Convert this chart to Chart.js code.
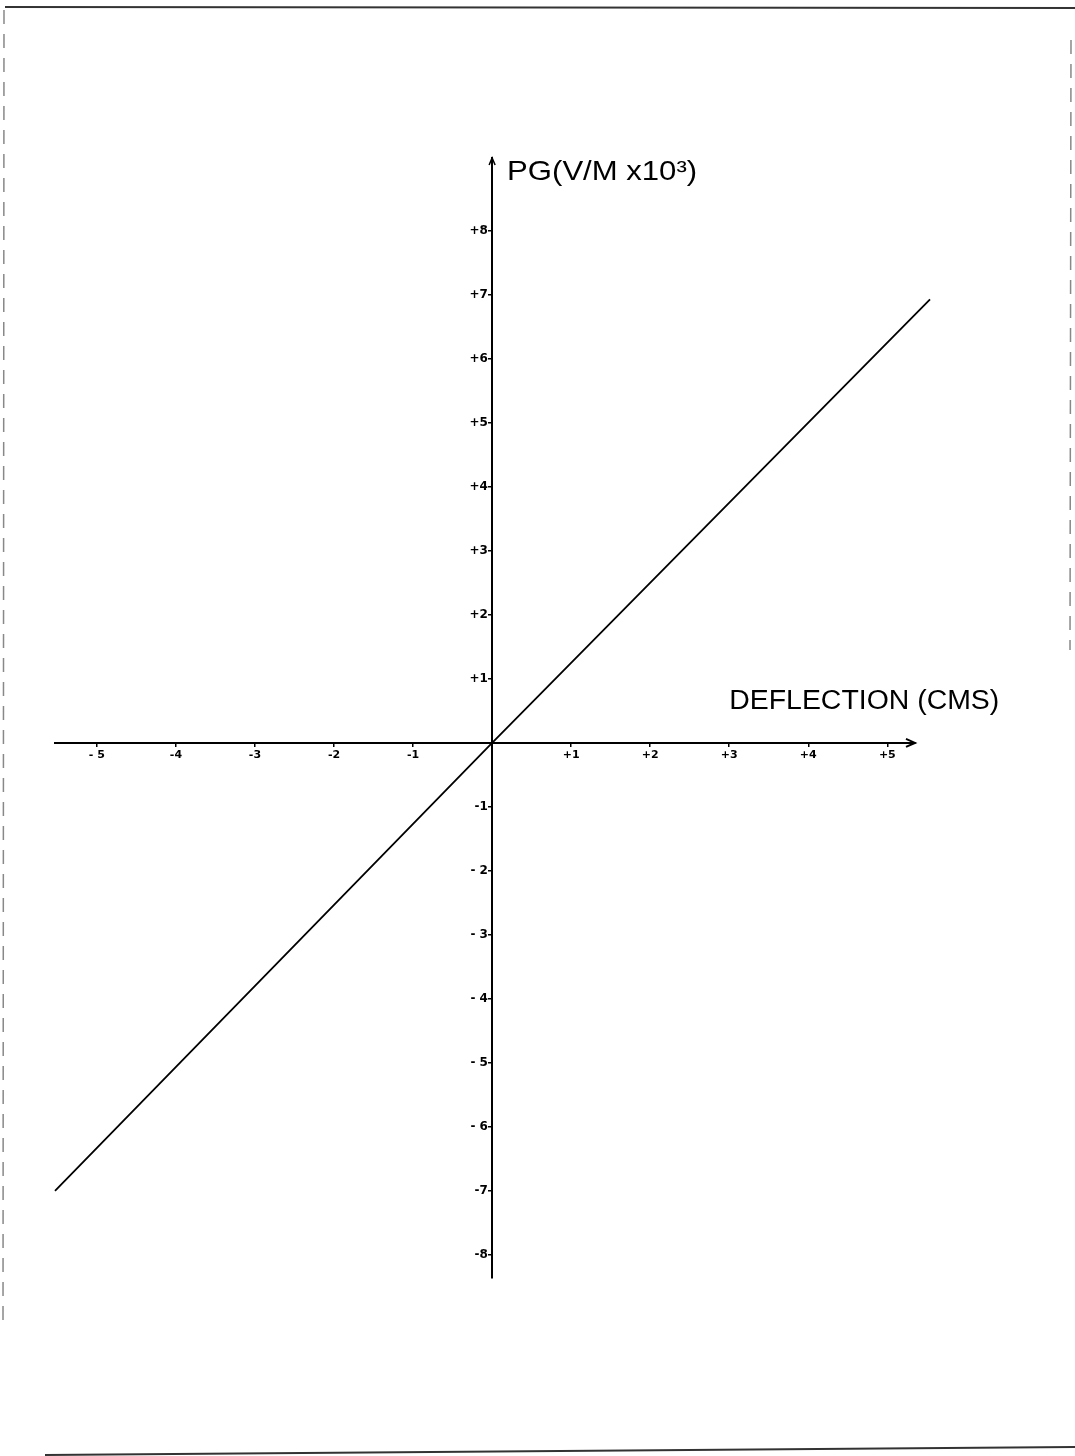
<!DOCTYPE html>
<html>
<head>
<meta charset="utf-8">
<title>PG calibration</title>
<script src="https://cdn.jsdelivr.net/npm/chart.js@4/dist/chart.umd.min.js"></script>
<style>
  html, body { margin: 0; padding: 0; background: #fff; }
  #wrap { position: relative; width: 1075px; height: 1456px; }
</style>
</head>
<body>
<div id="wrap"><canvas id="calib" width="1075" height="1456"></canvas></div>
<script>
// calibration line: potential gradient against meter deflection
const deflection = [-5.53, 0, 5.54];
const potentialGradient = [-7.0, 0, 6.93];

const xTicks = [-5, -4, -3, -2, -1, 1, 2, 3, 4, 5];
const xTickLabels = ['- 5', '-4', '-3', '-2', '-1', '+1', '+2', '+3', '+4', '+5'];
const yTicks = [8, 7, 6, 5, 4, 3, 2, 1, -1, -2, -3, -4, -5, -6, -7, -8];
const yTickLabels = ['+8', '+7', '+6', '+5', '+4', '+3', '+2', '+1',
                     '-1', '- 2', '- 3', '- 4', '- 5', '- 6', '-7', '-8'];

const xTitle = 'DEFLECTION (CMS)';
const yTitle = 'PG(V/M x10\u00B3)';

// draw text squeezed/stretched to a given width
function fitText(ctx, text, x, y, width) {
    const w = ctx.measureText(text).width;
    ctx.save();
    ctx.translate(x, y);
    ctx.scale(width / w, 1);
    ctx.fillText(text, 0, 0);
    ctx.restore();
}

// paper edges of the sheet
const paper = {
    id: 'paper',
    beforeDraw(chart) {
        const ctx = chart.ctx;
        ctx.save();
        ctx.fillStyle = '#fff';
        ctx.fillRect(0, 0, chart.width, chart.height);
        ctx.strokeStyle = '#333';
        ctx.lineWidth = 2;
        ctx.beginPath();
        ctx.moveTo(5, 7);
        ctx.lineTo(1075, 8);
        ctx.stroke();
        ctx.beginPath();
        ctx.moveTo(45, 1455);
        ctx.lineTo(1075, 1447);
        ctx.stroke();
        ctx.strokeStyle = '#888';
        ctx.lineWidth = 1.5;
        ctx.setLineDash([14, 10]);
        ctx.beginPath();
        ctx.moveTo(4, 10);
        ctx.lineTo(3, 1330);
        ctx.stroke();
        ctx.beginPath();
        ctx.moveTo(1071, 40);
        ctx.lineTo(1070, 650);
        ctx.stroke();
        ctx.restore();
    }
};

// arrow heads and axis titles
const annotate = {
    id: 'annotate',
    afterDraw(chart) {
        const ctx = chart.ctx;
        const x = chart.scales.x, y = chart.scales.y;
        const ox = x.getPixelForValue(0), oy = y.getPixelForValue(0);
        ctx.save();
        ctx.strokeStyle = '#000';
        ctx.lineWidth = 2;
        ctx.beginPath();
        ctx.moveTo(x.right - 9, oy - 4);
        ctx.lineTo(x.right, oy);
        ctx.lineTo(x.right - 9, oy + 4);
        ctx.stroke();
        ctx.lineWidth = 1.5;
        ctx.beginPath();
        ctx.moveTo(ox - 3, y.top + 7);
        ctx.lineTo(ox, y.top);
        ctx.lineTo(ox + 3, y.top + 7);
        ctx.stroke();

        ctx.fillStyle = '#000';
        ctx.textBaseline = 'alphabetic';
        ctx.font = '28px "Liberation Sans"';
        fitText(ctx, yTitle, ox + 15, y.top + 22, 190);
        ctx.font = '27px "Liberation Sans"';
        fitText(ctx, xTitle, x.getPixelForValue(3.0), oy - 34, 270);
        ctx.restore();
    }
};

new Chart(document.getElementById('calib'), {
    type: 'scatter',
    data: {
        datasets: [{
            data: deflection.map((d, i) => ({ x: d, y: potentialGradient[i] })),
            showLine: true,
            borderColor: '#000',
            borderWidth: 1.8,
            pointRadius: 0,
            clip: false
        }]
    },
    options: {
        responsive: false,
        animation: false,
        layout: { padding: { left: 55, right: 160, top: 158, bottom: 178 } },
        plugins: { legend: { display: false }, tooltip: { enabled: false } },
        scales: {
            x: {
                type: 'linear',
                position: { y: 0 },
                min: -5.53,
                max: 5.35,
                afterBuildTicks: s => { s.ticks = xTicks.map(v => ({ value: v })); },
                ticks: {
                    autoSkip: false,
                    maxRotation: 0,
                    padding: 3,
                    color: '#000',
                    font: { family: 'DejaVu Sans', size: 11, weight: 'bold' },
                    callback: v => xTickLabels[xTicks.indexOf(v)]
                },
                grid: { drawOnChartArea: false, drawTicks: true, tickLength: 3, color: '#000', lineWidth: 1.5 },
                border: { display: true, color: '#000', width: 2 }
            },
            y: {
                type: 'linear',
                position: { x: 0 },
                min: -8.36,
                max: 9.14,
                afterBuildTicks: s => { s.ticks = yTicks.map(v => ({ value: v })); },
                ticks: {
                    autoSkip: false,
                    color: '#000',
                    font: { family: 'DejaVu Sans', size: 12, weight: 'bold' },
                    // labels sit right-aligned on the axis line; a trailing space keeps them clear of it
                    callback: v => yTickLabels[yTicks.indexOf(v)] + ' '
                },
                grid: { drawOnChartArea: false, drawTicks: true, tickLength: 3, color: '#000', lineWidth: 1.5 },
                border: { display: true, color: '#000', width: 2 }
            }
        }
    },
    plugins: [paper, annotate]
});
</script>
</body>
</html>
